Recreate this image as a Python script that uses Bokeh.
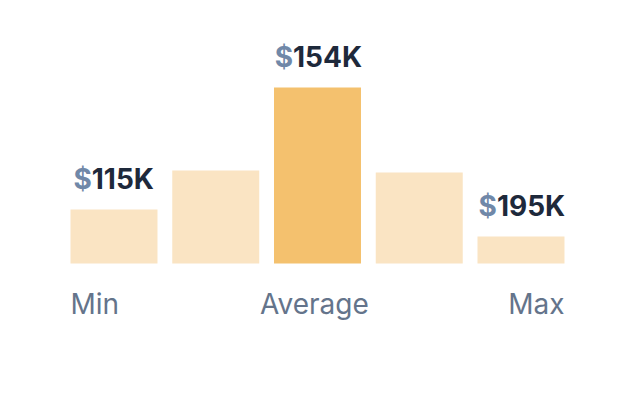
from bokeh.plotting import figure
from bokeh.models import ColumnDataSource
from bokeh.core.properties import value
from bokeh.embed import file_html
from bokeh.resources import INLINE

# ---- data ----
bins = [0, 1, 2, 3, 4]
shares = [54, 93, 176, 91, 27]           # relative frequency per salary band
highlight = [False, False, True, False, False]
label_bins = [0, 2, 4]
label_amounts = ["115K", "154K", "195K"]
label_values = [54, 176, 27]
axis_labels = ["Min", "Average", "Max"]

# ---- style ----
LIGHT = "#FAE4C3"
HIGH = "#F4C16E"
DOLLAR = "#7088A8"
DARK = "#1E293B"
AXIS = "#64748B"
FONT = "Inter"

W, H = 608, 377
step = 101.75
c0 = 113.5
x_start = -c0 / step
x_end = (W - c0) / step
y_base_px = 263
y_start = -(H - y_base_px)
y_end = y_base_px

p = figure(width=W, height=H, output_backend="svg", toolbar_location=None,
           x_range=(x_start, x_end), y_range=(y_start, y_end),
           min_border=0, outline_line_color=None)
p.axis.visible = False
p.grid.visible = False
p.background_fill_color = "white"
p.border_fill_color = "white"

colors = [HIGH if h else LIGHT for h in highlight]
src = ColumnDataSource(dict(x=bins, top=shares, color=colors))
p.vbar(x="x", top="top", bottom=0, width=0.855, fill_color="color",
       line_color=None, source=src)

# value labels: "$" in slate-blue, amount in dark navy
char_w = {"$": 0.66, "1": 0.50, "5": 0.63, "4": 0.66, "9": 0.63, "K": 0.69}
SIZE = 28
offs = []
for a in label_amounts:
    wd = char_w["$"] * SIZE
    wn = sum(char_w[c] for c in a) * SIZE
    offs.append((wd - wn) / 2 + 1)
lsrc = ColumnDataSource(dict(x=label_bins, y=label_values, amt=label_amounts,
                             dol=["$"] * 3, off=offs))
p.text(x="x", y="y", text="dol", x_offset="off", y_offset=-31, source=lsrc,
       text_font=value(FONT), text_font_size=f"{SIZE}px", text_font_style="bold",
       text_color=DOLLAR, text_align="right", text_baseline="alphabetic")
p.text(x="x", y="y", text="amt", x_offset="off", y_offset=-31, source=lsrc,
       text_font=value(FONT), text_font_size=f"{SIZE}px", text_font_style="bold",
       text_color=DARK, text_align="left", text_baseline="alphabetic")

# axis labels under bars
half = 0.855 / 2
ax_x = [bins[0] - half, (bins[0] + bins[-1]) / 2 - 0.03, bins[-1] + half]
asrc = ColumnDataSource(dict(x=ax_x, y=[0, 0, 0], t=axis_labels,
                             align=["left", "center", "right"]))
p.text(x="x", y="y", text="t", y_offset=40, source=asrc,
       text_font=value(FONT), text_font_size="28px",
       text_color=AXIS, text_align="align", text_baseline="alphabetic")

open("out.html", "w").write(file_html(p, INLINE))
